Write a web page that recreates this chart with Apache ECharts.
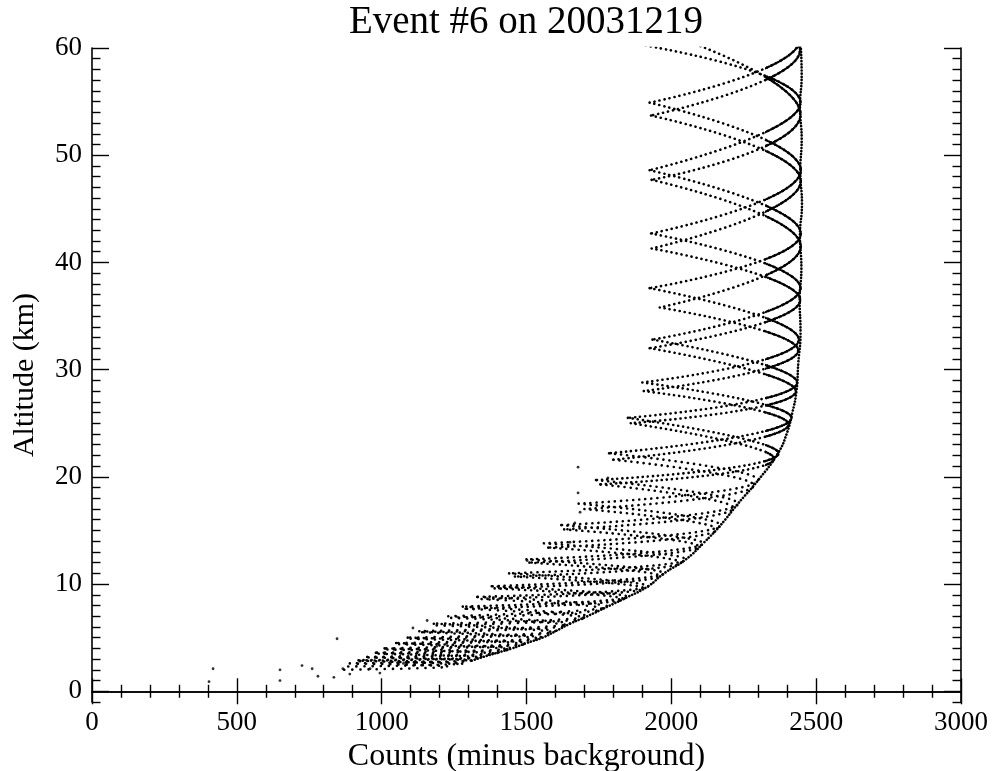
<!DOCTYPE html>
<html>
<head>
<meta charset="utf-8">
<script src="https://cdn.jsdelivr.net/npm/echarts@6/dist/echarts.min.js"></script>
<style>
  html, body { margin: 0; padding: 0; background: #ffffff; }
  #chart { width: 999px; height: 771px; }
</style>
</head>
<body>
<div id="chart"></div>
<script>
// Axis ticks and labels
const xMajorTicks = [0, 500, 1000, 1500, 2000, 2500, 3000];
const yMajorTicks = [0, 10, 20, 30, 40, 50, 60];
const yMinorTicks = [-1, 1, 2, 3, 4, 5, 6, 7, 8, 9, 11, 12, 13, 14, 15, 16, 17, 18, 19,
  21, 22, 23, 24, 25, 26, 27, 28, 29, 31, 32, 33, 34, 35, 36, 37, 38, 39,
  41, 42, 43, 44, 45, 46, 47, 48, 49, 51, 52, 53, 54, 55, 56, 57, 58, 59];

// Scan curves: turning points [counts, altitude km], alternating minimum (left) and maximum (right)
const scanA1 = [
  [1895, 60.3], [2446, 54.9], [1925, 48.6], [2447, 42.7], [1925, 37.6], [2440, 32.8],
  [1900, 28.8], [2415, 25.5], [1785, 22.2], [2300, 19.7], [1680, 17.5], [2170, 15.5],
  [1560, 13.8], [2050, 12.3], [1440, 11.0], [1920, 9.8], [1330, 8.8], [1780, 7.9],
  [1230, 7.0], [1650, 6.3], [1130, 5.6], [1555, 5.0], [1050, 4.5], [1450, 4.0],
  [980, 3.6], [1350, 3.2], [920, 2.9], [1280, 2.6], [860, 2.3]
];
const scanA2 = [
  [1935, 61.8], [2446, 53.8], [1932, 47.7], [2447, 41.5], [1960, 35.8], [2438, 31.8],
  [1905, 28.0], [2405, 24.9], [1800, 21.6], [2285, 19.2], [1700, 17.0], [2160, 15.1],
  [1575, 13.4], [2035, 12.0], [1460, 10.7], [1905, 9.6], [1345, 8.6], [1765, 7.7],
  [1240, 6.85], [1640, 6.15], [1140, 5.5], [1545, 4.9], [1060, 4.4], [1440, 3.9],
  [990, 3.5], [1340, 3.15], [925, 2.85], [1270, 2.55]
];
const scanB1 = [
  [1925, 67.0], [2444, 60.8], [1925, 54.9], [2447, 48.6], [1930, 42.7], [2446, 37.6],
  [1935, 32.8], [2434, 28.8], [1850, 25.5], [2370, 22.2], [1740, 19.7], [2230, 17.5],
  [1620, 15.5], [2110, 13.8], [1500, 12.3], [1975, 11.0], [1380, 9.8], [1850, 8.8],
  [1280, 7.9], [1710, 7.0], [1180, 6.3], [1600, 5.6], [1090, 5.0], [1500, 4.5],
  [1010, 4.0], [1400, 3.6], [950, 3.2], [1310, 2.9], [890, 2.6], [1230, 2.3], [850, 2.0]
];
const scanB2 = [
  [1935, 66.0], [2444, 59.8], [1930, 53.7], [2447, 47.6], [1932, 41.3], [2445, 36.5],
  [1925, 32.0], [2430, 28.0], [1860, 25.0], [2355, 21.7], [1755, 19.3], [2215, 17.1],
  [1630, 15.1], [2095, 13.5], [1510, 12.0], [1960, 10.75], [1390, 9.6], [1835, 8.6],
  [1290, 7.7], [1700, 6.85], [1190, 6.15], [1590, 5.5], [1100, 4.9], [1490, 4.4],
  [1020, 3.9], [1390, 3.5], [955, 3.15], [1300, 2.85], [895, 2.55]
];
// Near-maximum trace along the right edge, down the lower boundary
const peakTrace = [
  [2446, 60.5], [2450, 57.5], [2444, 54.5], [2450, 51.5], [2445, 48.5], [2451, 45.5],
  [2444, 42.5], [2449, 39.5], [2443, 36.5], [2446, 33.5], [2438, 30.5], [2432, 28.0],
  [2418, 26.0], [2398, 24.0], [2368, 22.2], [2300, 19.7], [2230, 17.5], [2170, 15.5],
  [2110, 13.8], [2050, 12.3], [1975, 11.0], [1920, 9.8], [1850, 8.8], [1780, 7.9],
  [1710, 7.0], [1650, 6.3], [1600, 5.6], [1555, 5.0], [1500, 4.5], [1450, 4.0],
  [1400, 3.6], [1350, 3.2], [1305, 2.8]
];
// Isolated low-altitude samples
const strayPoints = [
  [404, 0.9], [418, 2.1], [649, 2.0], [649, 1.0], [725, 2.4], [760, 2.1], [780, 1.4],
  [835, 1.3], [846, 4.9], [866, 2.1], [890, 1.6], [925, 2.8], [960, 2.1], [994, 1.7],
  [1108, 5.9], [1157, 6.6], [1502, 12.2], [1678, 18.5], [1685, 16.7], [1667, 15.7],
  [1650, 13.9], [1781, 19.9], [1678, 20.9], [1040, 3.1], [1075, 2.6], [1190, 4.2]
];

const FONT = 'Liberation Serif';

// Plot frame in pixels, and the counts value where the scans bunch up near their maximum
const frame = { left: 92, right: 38, top: 48, bottom: 69, width: 869 };
const xRange = [0, 3000];
const nearPeakFrom = 2330;

// Split scans into arcs (min -> max -> min); each arc is smoothed on its own and
// sorted into an altitude band by the altitude of its maximum
const bandLimits = [20, 8];
function buildBands(scans) {
  const bands = [[], [], []];
  scans.forEach(points => {
    for (let i = 0; i + 1 < points.length; i += 2) {
      const arc = points.slice(i, i + 3);
      const peakAlt = arc[1][1];
      const b = peakAlt >= bandLimits[0] ? 0 : (peakAlt >= bandLimits[1] ? 1 : 2);
      bands[b].push(...arc, ['-', '-']);
    }
  });
  return bands;
}
const bands = buildBands([scanA1, scanA2, scanB1, scanB2]);
const bandDash = [[0.1, 5.0], [0.1, 6.0], [0.1, 8.0]];

function bandSeries(data, dash, xi, yi) {
  return {
    type: 'line', data: data, smooth: 0.5, showSymbol: false, symbol: 'none',
    connectNulls: false, silent: true, z: 2, clip: true,
    xAxisIndex: xi || 0, yAxisIndex: yi || 0,
    lineStyle: { color: '#000', width: 2.6, type: dash, cap: 'round' }
  };
}

// Same scans drawn again on a second grid that covers only the near-maximum strip,
// where the samples are packed more densely
const nearPeak = bandSeries(bands[0], [0.1, 2.0], 2, 4);
nearPeak.lineStyle.width = 2.4;
const stripLeft = frame.left + frame.width * (nearPeakFrom - xRange[0]) / (xRange[1] - xRange[0]);

const axisLineStyle = { color: '#000', width: 1.6 };
const tickStyle = { color: '#000', width: 1.4 };
const plainNumber = v => String(v);

const chart = echarts.init(document.getElementById('chart'), null, { renderer: 'canvas' });
chart.setOption({
  animation: false,
  backgroundColor: '#ffffff',
  graphic: [{
    type: 'text', x: 526, y: 3,
    style: { text: 'Event #6 on 20031219', fill: '#000', font: '39px "' + FONT + '"', textAlign: 'center' }
  }],
  grid: [
    { left: frame.left, right: frame.right, top: frame.top, bottom: frame.bottom, outerBoundsMode: 'none', containLabel: false },
    { left: stripLeft, right: frame.right, top: frame.top, bottom: frame.bottom, outerBoundsMode: 'none', containLabel: false }
  ],
  xAxis: [
    {
      type: 'value', gridIndex: 0, position: 'bottom', min: xRange[0], max: xRange[1], interval: 500,
      axisLine: { show: true, lineStyle: axisLineStyle },
      axisTick: { show: true, inside: true, length: 13, lineStyle: tickStyle },
      minorTick: { show: true, splitNumber: 5, length: 6.5, lineStyle: tickStyle },
      axisLabel: { show: true, color: '#000', fontFamily: FONT, fontSize: 27, margin: 7,
        customValues: xMajorTicks, formatter: plainNumber },
      splitLine: { show: false }, minorSplitLine: { show: false },
      name: 'Counts (minus background)', nameLocation: 'middle', nameGap: 35,
      nameTextStyle: { color: '#000', fontFamily: FONT, fontSize: 32 }
    },
    {
      type: 'value', gridIndex: 0, position: 'top', min: xRange[0], max: xRange[1], interval: 500,
      axisLine: { show: true, lineStyle: axisLineStyle },
      axisTick: { show: true, inside: true, length: 13, lineStyle: tickStyle },
      minorTick: { show: true, splitNumber: 5, length: 6.5, lineStyle: tickStyle },
      axisLabel: { show: false }, splitLine: { show: false }, minorSplitLine: { show: false }
    },
    {
      type: 'value', gridIndex: 1, min: nearPeakFrom, max: xRange[1], show: false,
      splitLine: { show: false }
    }
  ],
  yAxis: [
    {
      type: 'value', gridIndex: 0, position: 'left', min: -1, max: 60,
      axisLine: { show: true, lineStyle: axisLineStyle },
      axisTick: { show: true, inside: true, length: 17, lineStyle: tickStyle, customValues: yMajorTicks },
      axisLabel: { show: true, color: '#000', fontFamily: FONT, fontSize: 27, margin: 10,
        customValues: yMajorTicks, formatter: plainNumber },
      splitLine: { show: false },
      name: 'Altitude (km)', nameLocation: 'middle', nameGap: 52, nameRotate: 90,
      nameTextStyle: { color: '#000', fontFamily: FONT, fontSize: 30 }
    },
    {
      type: 'value', gridIndex: 0, position: 'left', min: -1, max: 60,
      axisLine: { show: false },
      axisTick: { show: true, inside: true, length: 8.5, lineStyle: tickStyle, customValues: yMinorTicks },
      axisLabel: { show: false }, splitLine: { show: false }
    },
    {
      type: 'value', gridIndex: 0, position: 'right', min: -1, max: 60,
      axisLine: { show: true, lineStyle: axisLineStyle },
      axisTick: { show: true, inside: true, length: 17, lineStyle: tickStyle, customValues: yMajorTicks },
      axisLabel: { show: false }, splitLine: { show: false }
    },
    {
      type: 'value', gridIndex: 0, position: 'right', min: -1, max: 60,
      axisLine: { show: false },
      axisTick: { show: true, inside: true, length: 8.5, lineStyle: tickStyle, customValues: yMinorTicks },
      axisLabel: { show: false }, splitLine: { show: false }
    },
    {
      type: 'value', gridIndex: 1, min: -1, max: 60, show: false, splitLine: { show: false }
    }
  ],
  series: [
    bandSeries(bands[0], bandDash[0]),
    bandSeries(bands[1], bandDash[1]),
    bandSeries(bands[2], bandDash[2]),
    nearPeak,
    {
      type: 'line', data: peakTrace, smooth: 0.5, showSymbol: false, symbol: 'none',
      lineStyle: { color: '#000', width: 2.6, type: [0.1, 3.0], cap: 'round' }, silent: true
    },
    {
      type: 'scatter', data: strayPoints, symbol: 'circle', symbolSize: 2.8,
      itemStyle: { color: '#000' }, silent: true
    }
  ]
});
</script>
</body>
</html>
